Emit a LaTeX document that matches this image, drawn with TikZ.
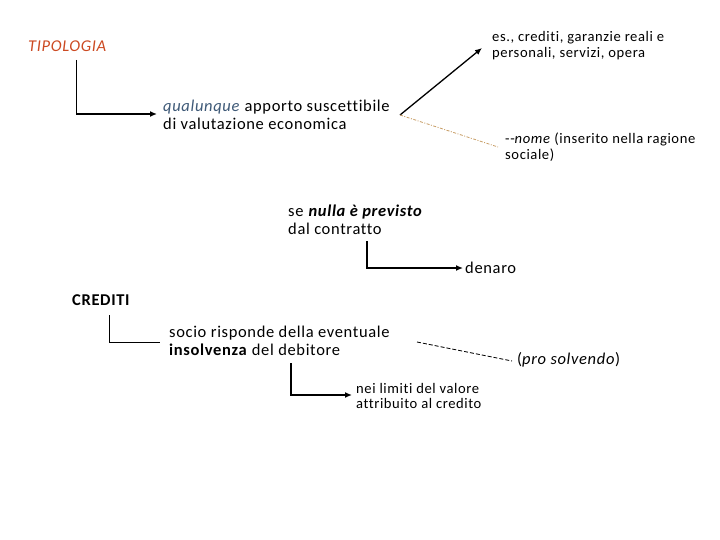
\documentclass[tikz,border=0pt]{standalone}
\usepackage{fontspec}
\setmainfont{Carlito}[LetterSpace=4, Ligatures=NoCommon]
\usetikzlibrary{arrows.meta}
\definecolor{tipcol}{HTML}{CC4A22}
\definecolor{qualcol}{HTML}{3F5A78}
\definecolor{dotcol}{HTML}{C89E66}
\tikzset{
  txt/.style={inner sep=0pt, anchor=west, align=left, font=\fontsize{16.5}{17.5}\selectfont},
  smalltxt/.style={inner sep=0pt, anchor=west, align=left, font=\fontsize{14.6}{15.5}\selectfont},
  conn/.style={line width=1.3pt, black},
  arr/.style={conn, -{Latex[length=7pt,width=6pt]}},
}
\begin{document}
\begin{tikzpicture}[x=1pt,y=-1pt]
\useasboundingbox[fill=white] (0,0) rectangle (720,540);

\node[txt, text=tipcol] (tip) at (28,46) {\textit{TIPOLOGIA}};
\node[txt] (qual) at (163,115) {{\color{qualcol}\textit{qualunque}} apporto suscettibile\\di valutazione economica};
\node[smalltxt] (es) at (492,45.5) {es., crediti, garanzie reali e\\personali, servizi, opera};
\node[smalltxt] (nome) at (505,147) {-{}-\textit{nome} (inserito nella ragione\\sociale)};
\node[txt] (se) at (288,220) {se \textbf{\textit{nulla è previsto}}\\dal contratto};
\node[txt] (den) at (465,268) {denaro};
\node[txt] (cred) at (72,300) {\textbf{CREDITI}};
\node[txt] (socio) at (169,341) {socio risponde della eventuale\\\textbf{insolvenza} del debitore};
\node[txt] (pro) at (517,360) {(\textit{pro solvendo})};
\node[smalltxt] (nei) at (356,396) {nei limiti del valore\\attribuito al credito};

\coordinate (c1) at (76.5,60);
\coordinate (c2) at (367,241);
\coordinate (c3) at (109,315);
\coordinate (c4) at (291,363);
\coordinate (q) at (400,115);
\coordinate (s) at (417,342);

\draw[arr] (c1) |- ([xshift=-6pt,yshift=1pt]qual.west);
\draw[arr] (q) -- ([xshift=-10pt,yshift=-2.5pt]es.west);
\draw[dotcol, line width=0.8pt, dash pattern=on 3pt off 1.5pt on 1pt off 1.5pt] (q) -- ([xshift=-7pt]nome.west);
\draw[arr] (c2) |- ([xshift=-2pt]den.west);
\draw[conn, line width=0.8pt] (c3) |- ([xshift=-9pt,yshift=-1pt]socio.west);
\draw[black, line width=0.8pt, dash pattern=on 4pt off 2pt] (s) -- ([xshift=-5pt,yshift=-1pt]pro.west);
\draw[arr] (c4) |- ([xshift=-4pt,yshift=1pt]nei.west);
\end{tikzpicture}
\end{document}
